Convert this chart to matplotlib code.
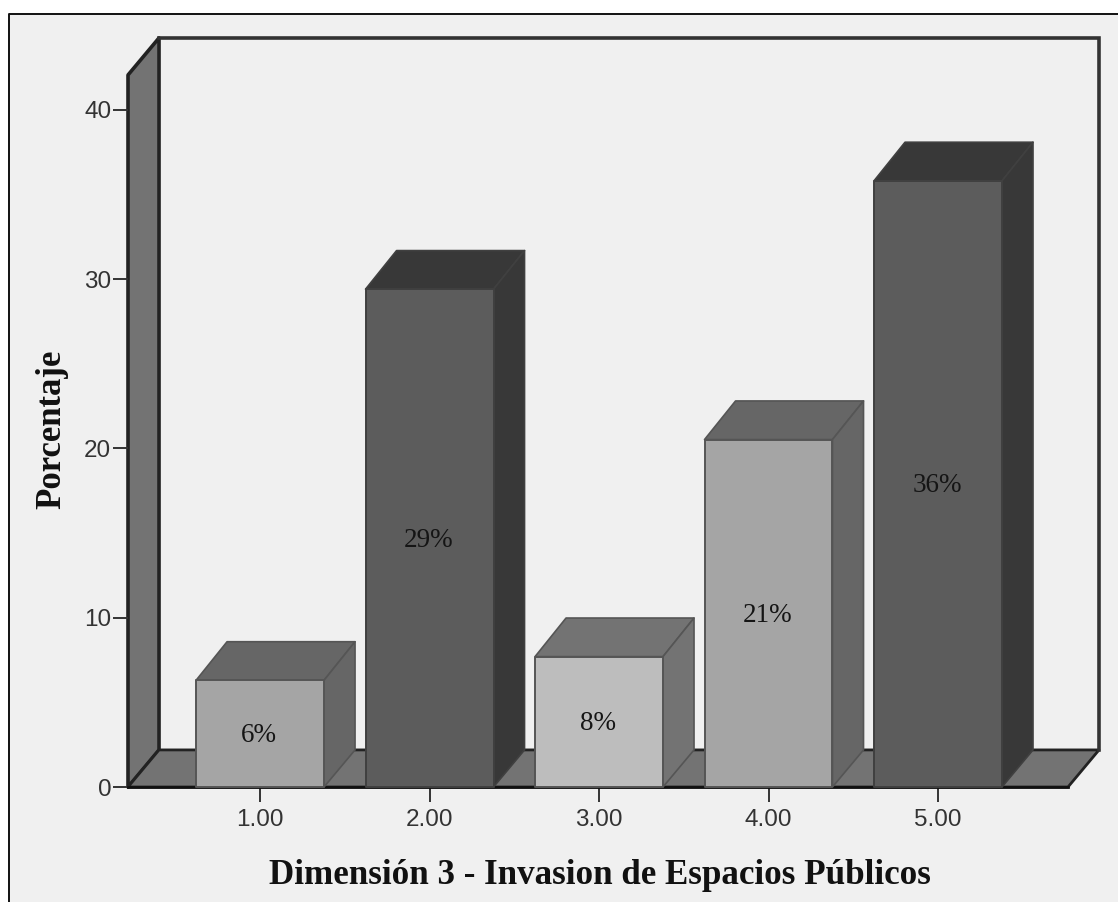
import matplotlib
matplotlib.use('Agg')
import matplotlib.pyplot as plt
from matplotlib.lines import Line2D
from matplotlib.patches import Polygon, Rectangle

categories = [1, 2, 3, 4, 5]
tick_labels = ['1.00', '2.00', '3.00', '4.00', '5.00']
percentages = [6.3, 29.4, 7.7, 20.52, 35.8]
y_ticks = [0, 10, 20, 30, 40]

front_colors = ['#a5a5a5', '#5c5c5c', '#bdbdbd', '#a5a5a5', '#5c5c5c']
side_colors = ['#666666', '#383838', '#737373', '#666666', '#383838']

BAR_WIDTH = 0.755
DX = 0.183   # depth offset in x units
DY = 2.19    # depth offset in y units
BAR_DY = 2.28
X0, X1 = 0.221, 5.767
Y_TOP = 42.05

W, H = 1118, 902

fig = plt.figure(figsize=(W / 100, H / 100), dpi=100, facecolor='white')

# grey panel with a frame on its left and top only
fig.add_artist(Rectangle((9 / W, 0), 1 - 9 / W, (H - 14) / H, transform=fig.transFigure,
                         facecolor='#f0f0f0', edgecolor='none', zorder=-2))
fig.add_artist(Line2D([9 / W, 9 / W, 1], [0, (H - 14) / H, (H - 14) / H],
                      transform=fig.transFigure, color='#111111', lw=1.4, zorder=-1))

ax = fig.add_axes([128 / W, (H - 787) / H, (1068 - 128) / W, (787 - 75) / H])
ax.set_xlim(X0, X1)
ax.set_ylim(0, Y_TOP)
ax.patch.set_visible(False)


def face(points, color, edge, lw=1.2, z=2):
    ax.add_patch(Polygon(points, closed=True, facecolor=color, edgecolor=edge,
                         linewidth=lw, joinstyle='round', clip_on=False, zorder=z))


# left wall and floor
face([(X0, 0), (X0 + DX, DY), (X0 + DX, Y_TOP + DY), (X0, Y_TOP)], '#737373', '#222222', 2.6, 1)
face([(X0, 0), (X1, 0), (X1 + DX, DY), (X0 + DX, DY)], '#737373', '#222222', 2.0, 1)

# back wall edges
ax.plot([X0 + DX, X1 + DX, X1 + DX], [Y_TOP + DY, Y_TOP + DY, DY], color='#333333',
        lw=2.6, clip_on=False, zorder=1, solid_joinstyle='miter')

for x, v, fc, sc in zip(categories, percentages, front_colors, side_colors):
    l = x - BAR_WIDTH / 2
    r = x + BAR_WIDTH / 2
    edge = '#555555' if fc != '#5c5c5c' else '#404040'
    face([(l, v), (r, v), (r + DX, v + BAR_DY), (l + DX, v + BAR_DY)], sc, edge, 1.2, 3)
    face([(r, 0), (r + DX, DY), (r + DX, v + BAR_DY), (r, v)], sc, edge, 1.2, 3)
    face([(l, 0), (r, 0), (r, v), (l, v)], fc, edge, 1.4, 4)
    ax.text(x - 0.005, v / 2 - 0.12, '%d%%' % round(v), ha='center', va='center',
            family='Liberation Serif', fontsize=19.5, color='#151515', zorder=5)

ax.set_xticks(categories)
ax.set_xticklabels(tick_labels)
ax.set_yticks(y_ticks)
for name in ['top', 'right', 'left']:
    ax.spines[name].set_visible(False)
ax.spines['bottom'].set_linewidth(2.0)
ax.spines['bottom'].set_color('#111111')
ax.spines['bottom'].set_zorder(2)
ax.tick_params(axis='x', length=10.5, width=1.4, color='#333333', labelcolor='#333333',
               labelsize=17.5, pad=5.5)
ax.tick_params(axis='y', length=10.5, width=1.4, color='#333333', labelcolor='#333333',
               labelsize=17.5, pad=1.5)
for t in ax.get_xticklabels() + ax.get_yticklabels():
    t.set_family('Liberation Sans')

fig.text(600 / W, (H - 875) / H, 'Dimensión 3 - Invasion de Espacios Públicos', ha='center',
         va='center', family='Liberation Serif', fontweight='bold', fontsize=25.2, color='#111111')
fig.text(52 / W, (H - 429) / H, 'Porcentaje', rotation=90, ha='center', va='center',
         family='Liberation Serif', fontweight='bold', fontsize=25, color='#111111')

fig.savefig('out.png', dpi=100, facecolor='white')
